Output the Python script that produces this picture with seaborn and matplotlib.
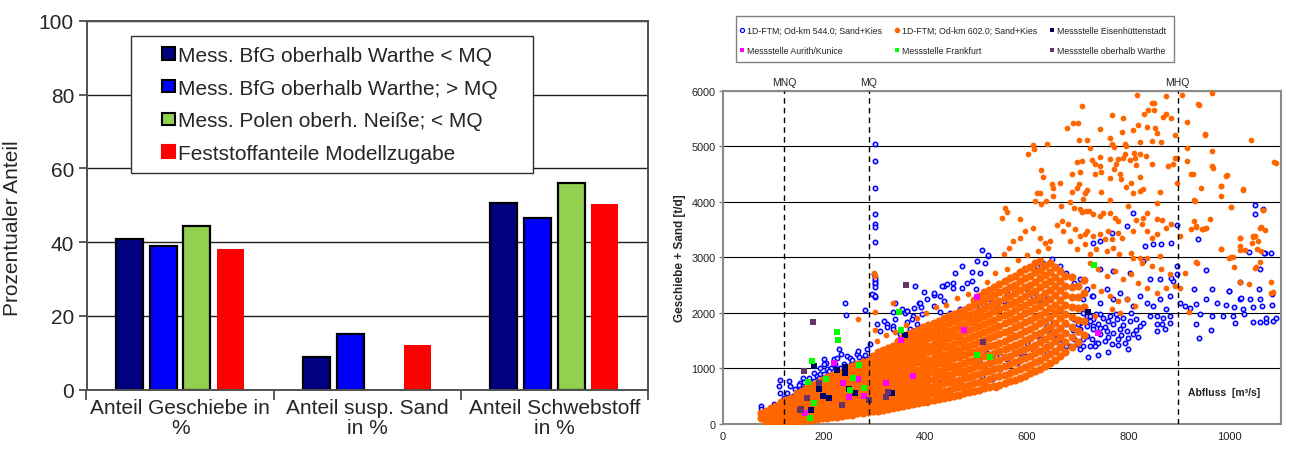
import numpy as np
import pandas as pd
import seaborn as sns
import matplotlib.pyplot as plt
from matplotlib.patches import Patch, Rectangle
from matplotlib.lines import Line2D

# ---------------- linke Grafik: Kornanteile ----------------
categories = ["Anteil Geschiebe in\n%", "Anteil susp. Sand\nin %", "Anteil Schwebstoff\nin %"]
series_names = [
    "Mess. BfG oberhalb Warthe < MQ",
    "Mess. BfG oberhalb Warthe; > MQ",
    "Mess. Polen oberh. Neiße; < MQ",
    "Feststoffanteile Modellzugabe",
]
bfg_low = [40.9, 8.8, 50.7]
bfg_high = [38.9, 15.1, 46.4]
polen = [44.4, np.nan, 56.1]
modell = [38.2, 12.1, 50.3]
bar_colors = ["#000080", "#0000FF", "#92D050", "#FF0000"]

# ---------------- rechte Grafik: Geschiebe + Sand ----------------
flow_names = ["MNQ", "MQ", "MHQ"]
flow_values = [122, 288, 897]

# 1D-FTM Od-km 602.0, dichtes Band (Abfluss -> Transportwerte)
orange_band_x = [76, 86, 96, 106, 116, 126, 136, 146, 156, 166, 176, 186, 196, 206, 216, 226,
                 236, 246, 256, 266, 276, 286, 296, 306, 316, 326, 336, 346, 356, 366, 376, 386,
                 396, 406, 416, 426, 436, 446, 456, 466, 476, 486, 496, 506, 516, 526, 536, 546,
                 556, 566, 576, 586, 596, 606, 616, 626, 636, 646, 656, 666, 676, 688, 700, 712]
orange_band_y = [
    [100, 190], [20, 90, 160, 230], [10, 80, 150, 230, 290], [30, 100, 180, 260, 330],
    [20, 110, 190, 270, 350, 400], [40, 120, 210, 290, 370, 440], [30, 130, 220, 310, 390, 470],
    [50, 140, 230, 320, 410, 500, 550], [60, 150, 250, 340, 430, 510, 590],
    [70, 160, 260, 350, 440, 530, 620, 660], [80, 170, 270, 360, 450, 540, 630, 700],
    [90, 190, 280, 370, 460, 560, 650, 740], [100, 200, 290, 390, 480, 570, 670, 760, 800],
    [110, 210, 310, 400, 500, 590, 690, 780, 850], [120, 220, 320, 420, 510, 610, 700, 800, 880],
    [130, 240, 330, 430, 530, 630, 720, 820, 910], [150, 250, 350, 450, 550, 650, 740, 840, 940],
    [160, 260, 360, 460, 560, 660, 760, 860, 960, 1000],
    [170, 280, 380, 480, 580, 680, 780, 880, 980, 1040],
    [190, 290, 390, 490, 590, 690, 790, 890, 990, 1080],
    [200, 300, 410, 510, 610, 710, 810, 910, 1010, 1110],
    [210, 320, 420, 520, 630, 730, 830, 940, 1040, 1140],
    [230, 330, 440, 540, 650, 750, 860, 960, 1070, 1170, 1230],
    [240, 350, 460, 560, 670, 780, 880, 990, 1100, 1200, 1290],
    [260, 370, 470, 580, 690, 800, 910, 1020, 1130, 1240, 1340],
    [270, 380, 490, 600, 710, 820, 930, 1040, 1150, 1260, 1370],
    [290, 400, 510, 620, 740, 850, 960, 1070, 1180, 1300, 1410],
    [300, 420, 530, 640, 760, 870, 990, 1100, 1210, 1330, 1440, 1500],
    [320, 440, 550, 670, 780, 900, 1020, 1130, 1250, 1370, 1480, 1560],
    [340, 460, 570, 690, 810, 930, 1040, 1160, 1280, 1400, 1520, 1620],
    [360, 480, 600, 720, 840, 960, 1080, 1200, 1320, 1440, 1560, 1660],
    [380, 500, 620, 740, 860, 980, 1110, 1230, 1350, 1470, 1590, 1700],
    [400, 520, 640, 760, 890, 1010, 1130, 1260, 1380, 1500, 1620, 1740],
    [410, 540, 660, 790, 910, 1040, 1160, 1290, 1410, 1540, 1660, 1780],
    [430, 560, 680, 810, 940, 1060, 1190, 1320, 1440, 1570, 1700, 1820],
    [450, 580, 710, 840, 960, 1090, 1220, 1350, 1480, 1610, 1740, 1860],
    [470, 600, 730, 860, 990, 1120, 1250, 1380, 1510, 1640, 1770, 1900],
    [490, 620, 750, 880, 1020, 1150, 1280, 1410, 1540, 1680, 1810, 1940],
    [510, 640, 780, 910, 1040, 1180, 1310, 1440, 1580, 1710, 1850, 1980],
    [530, 670, 800, 940, 1070, 1210, 1340, 1480, 1610, 1750, 1880, 2020],
    [550, 690, 830, 960, 1100, 1240, 1380, 1510, 1650, 1790, 1920, 2060],
    [570, 710, 850, 990, 1130, 1270, 1410, 1550, 1690, 1830, 1960, 2100],
    [590, 730, 880, 1020, 1160, 1300, 1440, 1580, 1720, 1860, 2000, 2140, 2230],
    [610, 760, 900, 1040, 1190, 1330, 1470, 1620, 1760, 1900, 2040, 2190, 2300],
    [640, 780, 930, 1070, 1220, 1360, 1510, 1650, 1800, 1940, 2090, 2230, 2380],
    [660, 810, 960, 1100, 1250, 1400, 1540, 1690, 1840, 1980, 2130, 2280, 2420],
    [690, 840, 990, 1130, 1280, 1430, 1580, 1730, 1880, 2030, 2180, 2320, 2470],
    [710, 860, 1010, 1160, 1310, 1460, 1620, 1770, 1920, 2070, 2220, 2370, 2520],
    [740, 890, 1040, 1200, 1350, 1500, 1650, 1810, 1960, 2110, 2260, 2420, 2570],
    [770, 920, 1080, 1230, 1390, 1540, 1700, 1850, 2000, 2160, 2310, 2470, 2620],
    [800, 960, 1110, 1270, 1420, 1580, 1740, 1890, 2050, 2200, 2360, 2510, 2670],
    [830, 990, 1150, 1310, 1460, 1620, 1780, 1940, 2100, 2250, 2410, 2570, 2730],
    [870, 1030, 1190, 1350, 1510, 1670, 1830, 1990, 2150, 2310, 2470, 2630, 2790],
    [910, 1070, 1230, 1390, 1550, 1710, 1870, 2030, 2190, 2350, 2510, 2670, 2830],
    [950, 1110, 1270, 1430, 1600, 1760, 1920, 2080, 2240, 2400, 2560, 2730, 2890],
    [990, 1160, 1320, 1480, 1640, 1810, 1970, 2130, 2290, 2460, 2620, 2780, 2940],
    [1040, 1200, 1370, 1530, 1700, 1860, 2020, 2190, 2350, 2520, 2680, 2850],
    [1090, 1260, 1420, 1590, 1750, 1920, 2080, 2250, 2410, 2580, 2740, 2900],
    [1150, 1320, 1490, 1650, 1820, 1990, 2150, 2320, 2490, 2650, 2820],
    [1220, 1390, 1560, 1730, 1900, 2070, 2240, 2410, 2580, 2750],
    [1300, 1470, 1640, 1810, 1980, 2150, 2320, 2490, 2660],
    [1380, 1560, 1740, 1920, 2100, 2280, 2460, 2640],
    [1480, 1680, 1880, 2080, 2280, 2480],
    [1600, 1850, 2100, 2350, 2600],
]
# 1D-FTM Od-km 602.0, Streupunkte
orange_scatter = [
    (817, 5923), (850, 5785), (846, 5785), (875, 5905), (905, 5923), (965, 5965), (708, 5725),
    (839, 5653), (850, 5653), (831, 5587), (939, 5743), (767, 5563), (790, 5503), (875, 5587),
    (869, 5533), (885, 5515), (700, 5425), (691, 5413), (680, 5323), (819, 5383), (837, 5353),
    (852, 5323), (744, 5305), (788, 5263), (809, 5287), (857, 5245), (892, 5203), (952, 5203),
    (764, 5155), (703, 5107), (718, 5107), (767, 5047), (793, 5047), (796, 5005), (824, 5077),
    (847, 5095), (865, 5083), (1042, 5107), (613, 5023), (615, 4945), (639, 5035), (724, 4963),
    (771, 4995), (916, 4975), (603, 4867), (744, 4813), (793, 4855), (790, 4795), (811, 4885),
    (813, 4795), (823, 4855), (834, 4825), (893, 4783), (699, 4717), (708, 4735), (728, 4747),
    (734, 4675), (744, 4645), (764, 4765), (780, 4765), (775, 4675), (771, 4585), (803, 4747),
    (816, 4663), (847, 4687), (879, 4645), (888, 4675), (895, 4783), (964, 4645), (966, 4603),
    (924, 4495), (995, 4483), (1092, 4705), (627, 4567), (632, 4453), (688, 4495), (705, 4543),
    (734, 4495), (747, 4537), (764, 4423), (783, 4495), (785, 4405), (806, 4345), (823, 4447),
    (896, 4345), (983, 4285), (649, 4315), (651, 4243), (665, 4345), (703, 4315), (699, 4243),
    (714, 4165), (719, 4207), (688, 4183), (711, 4045), (747, 4183), (764, 4027), (796, 4267),
    (809, 4165), (824, 4195), (828, 4225), (863, 4183), (944, 4243), (1027, 4207), (619, 4153),
    (626, 4165), (616, 4015), (627, 3955), (652, 4105), (638, 4015), (668, 3925), (685, 4003),
    (693, 3895), (705, 3865), (708, 3823), (716, 3835), (723, 3835), (731, 3775), (744, 3745),
    (750, 3805), (764, 3805), (773, 3715), (780, 3655), (800, 3925), (836, 3805), (829, 3715),
    (857, 3985), (856, 3685), (867, 3667), (929, 4027), (930, 3655), (962, 3691), (557, 3895),
    (560, 3817), (550, 3715), (587, 3685), (1065, 3853), (1003, 3913),
    (659, 3583), (669, 3655), (672, 3475), (682, 3595), (695, 3505), (705, 3385), (714, 3427),
    (719, 3475), (731, 3385), (745, 3415), (754, 3325), (760, 3475), (767, 3325), (780, 3445),
    (787, 3355), (810, 3475), (815, 3667), (826, 3595), (836, 3475), (846, 3343), (856, 3415),
    (874, 3523), (884, 3595), (901, 3385), (924, 3505), (946, 3505), (954, 3523), (1021, 3343),
    (1046, 3373), (1056, 3295), (1070, 3493), (982, 3145), (1021, 3133), (1054, 3145),
    (999, 2995), (936, 2905), (863, 3025), (836, 2995), (824, 2983), (806, 3085), (782, 3055),
    (770, 3175), (757, 3115), (737, 3145), (724, 3055), (714, 3235), (698, 3145), (686, 3295),
    (646, 3295), (636, 3265), (626, 3343), (613, 3535), (596, 3475), (587, 3355), (573, 3295),
    (564, 3175), (554, 3055),
    (931, 4017), (1003, 3915), (1065, 3855), (934, 3567), (947, 3519), (954, 3525), (1059, 3537),
    (1021, 3346), (1046, 3388), (1043, 3256), (983, 3148), (1031, 3136), (1062, 3118),
    (1059, 2908), (1003, 2998), (934, 2908), (1008, 2818), (1049, 2806), (911, 2716),
    (901, 2440), (1020, 2560), (1038, 2518), (1082, 2548), (1082, 2356), (920, 2008),
    (810, 2997), (826, 2907), (846, 2847), (865, 2787), (882, 2697), (724, 2907), (741, 2787),
    (757, 2667), (774, 2757), (790, 2607), (806, 2697), (820, 2547), (836, 2457), (856, 2367),
    (875, 2457), (892, 2487), (731, 2487), (747, 2397), (764, 2307), (780, 2217), (797, 2247),
    (813, 2127), (767, 2067), (783, 2007), (734, 1947),
    (1085, 2370), (1052, 2820), (1006, 3000), (1049, 3390), (1062, 3540), (1020, 3210),
    (993, 4470), (964, 4920), (1088, 4710), (1026, 4230), (983, 4290), (928, 4500), (938, 5760),
    (951, 5220), (915, 5442), (915, 4740), (983, 4110), (934, 3540),
    (299, 2727), (301, 2670), (301, 2019), (268, 1887), (337, 2187), (300, 1700), (305, 1500),
    (322, 1610), (341, 1660), (362, 1790), (383, 1910), (402, 1990), (421, 2110), (441, 2140),
    (462, 2260), (483, 2340), (521, 2560), (538, 2710), (561, 2790), (582, 2960), (601, 3040),
    (622, 3110), (641, 3160),
    (539, 657), (491, 717), (462, 537), (449, 597), (403, 387), (377, 357), (423, 537),
]

# 1D-FTM Od-km 544.0
blue_pts = [
    (75, 327), (75, 267), (94, 207), (101, 357), (113, 795), (131, 777), (134, 687), (142, 627),
    (147, 567), (139, 507), (153, 747), (159, 837), (167, 687), (173, 777), (181, 915),
    (186, 867), (193, 897), (200, 1167), (205, 1107), (213, 1017), (219, 1167), (229, 1347),
    (234, 1257), (226, 1197), (242, 2187), (244, 1959), (245, 1227), (253, 1077), (265, 1257),
    (275, 1167), (280, 2055), (285, 1347), (291, 1437), (111, 687), (114, 567), (121, 477),
    (127, 417), (137, 357), (222, 1077), (232, 1017), (239, 1077), (153, 627), (163, 567),
    (127, 567), (134, 477), (193, 1017), (200, 1077), (206, 987), (252, 1197), (258, 1107),
    (268, 1317), (272, 1077), (285, 1167), (150, 700), (160, 760), (170, 820), (180, 780),
    (190, 820), (200, 900), (210, 950), (215, 880), (225, 940), (235, 960), (245, 1010),
    (255, 1150), (262, 1050), (270, 1200), (280, 1250), (160, 640), (175, 650), (185, 700),
    (196, 760), (205, 700),
    (301, 5040), (301, 4740), (301, 4250), (301, 3780), (301, 3600), (301, 3540), (301, 3280),
    (301, 2640), (301, 2580), (301, 2520), (298, 2320), (301, 2280), (295, 2337), (301, 2307),
    (301, 2619), (301, 2547), (299, 2697), (301, 2469),
    (318, 1857), (324, 1797), (337, 1767), (340, 2187), (354, 2067), (360, 2007), (304, 1797),
    (310, 1677), (337, 1707), (350, 1617), (370, 1707), (363, 2037), (375, 1947), (383, 1797),
    (388, 2187), (377, 1677), (472, 2850), (501, 2940), (511, 3138), (524, 3030), (491, 2730),
    (472, 2448), (455, 2538), (436, 2478), (416, 2322), (398, 2382), (380, 2478), (391, 2100),
    (436, 2220), (469, 2070), (508, 2130), (429, 2010), (337, 2010), (340, 1890), (324, 1740),
    (364, 1830), (459, 2727), (432, 2487), (442, 2517), (454, 2457), (518, 2895), (524, 3039),
    (508, 2715), (482, 2547), (491, 2577), (500, 2439), (390, 2187), (403, 2247), (416, 2127),
    (377, 2097), (364, 2037), (373, 1887), (393, 1977), (416, 2367), (429, 2307), (449, 2007),
    (462, 1947), (478, 2067), (488, 1887), (501, 1947), (514, 2157), (528, 2247), (541, 2127),
    (554, 2217), (560, 2367), (573, 2487), (587, 2577), (600, 2427), (613, 2307), (626, 2187),
    (639, 2247), (619, 2847), (632, 2907), (649, 2967), (665, 2847), (678, 2727), (692, 2547),
    (705, 2607), (718, 2427), (728, 2307),
    (547, 1467), (560, 1347), (573, 1407), (587, 1287), (600, 1467), (613, 1347), (626, 1527),
    (639, 1407), (652, 1587), (665, 1467), (678, 1647), (692, 1527), (705, 1707), (718, 1587),
    (731, 1767), (560, 1167), (580, 1107), (596, 1227), (547, 1227), (521, 1287), (534, 1167),
    (508, 1107), (541, 1017), (639, 1767), (652, 1827), (665, 1707), (678, 1797), (692, 1887),
    (705, 1827), (718, 1947), (731, 1887), (744, 1977), (646, 1647), (659, 1557), (672, 1497),
    (685, 1407), (698, 1437), (711, 1527), (724, 1407), (737, 1467), (429, 807), (449, 867),
    (468, 747), (482, 837), (409, 627), (390, 567), (396, 747), (501, 897), (521, 957),
    (383, 1707), (396, 1587), (370, 1467), (423, 1647), (436, 1767), (705, 1350), (678, 1410),
    (639, 1290), (619, 1110), (600, 1050), (587, 1170), (567, 930), (547, 990), (531, 810),
    (511, 870), (495, 750),
    (896, 3579), (896, 2847), (938, 3339), (1049, 3939), (1049, 3777), (1038, 3099), (1069, 3075),
    (1082, 3075), (954, 2775), (1059, 2787), (895, 2697), (964, 2439), (998, 2397), (1020, 2247),
    (1023, 2277), (1039, 2247), (1058, 2439), (1084, 2337), (929, 2427), (934, 2157), (954, 2247),
    (974, 2187), (993, 2139), (1008, 2115), (1026, 2079), (1046, 2115), (1064, 2127), (1084, 2139),
    (901, 2175), (911, 2127), (921, 2097), (941, 1977), (964, 1947), (987, 1947), (1006, 1947),
    (1029, 1977), (934, 1797), (963, 1689), (1010, 1815), (1045, 1845), (1059, 1839), (1072, 1839),
    (1085, 1857), (939, 1557),
    (711, 2007), (724, 1947), (737, 1977), (751, 1917), (764, 1947), (777, 1887), (790, 1917),
    (803, 1857), (816, 1887), (829, 1827), (842, 1947), (856, 1947), (869, 1917), (882, 1947),
    (718, 1767), (731, 1707), (744, 1737), (757, 1677), (770, 1647), (783, 1707), (797, 1677),
    (810, 1617), (823, 1767), (715, 1587), (728, 1527), (741, 1467), (754, 1497), (767, 1437),
    (780, 1527), (793, 1467), (711, 1407), (734, 1407), (856, 1797), (867, 1797), (882, 1815),
    (857, 1677), (872, 1707), (711, 2247), (731, 2307), (744, 2187), (757, 2427), (770, 2247),
    (783, 2367), (797, 2247), (810, 2127), (823, 2307), (836, 2187), (849, 2127), (862, 2247),
    (875, 2067), (882, 2307), (744, 2787), (770, 2757), (803, 2727), (829, 2937), (842, 2607),
    (862, 2619), (888, 2577), (885, 2637), (744, 3297), (767, 3447), (797, 3567), (833, 3207),
    (849, 3237), (865, 3237), (885, 3267), (810, 3795), (731, 3267), (1065, 3870), (1067, 3078),
    (1021, 2562), (999, 2400), (1059, 2250), (1092, 1902), (1072, 1902), (725, 1850), (740, 1800),
    (755, 1750), (770, 1800), (785, 1600), (800, 1550), (815, 1700), (760, 1560), (790, 1780),
    (745, 1620), (775, 1980), (805, 2000), (820, 1560), (700, 1650), (690, 1700), (760, 1850),
    (700, 1800), (760, 1300), (800, 1350), (740, 1250), (720, 1200), (780, 1420),
]

# Messstellen
eisen_pts = [(180, 1047), (226, 975), (241, 1035), (242, 915), (190, 627), (199, 507), (209, 477),
             (175, 255), (262, 567), (335, 555), (359, 1599), (249, 630), (720, 2020)]
aurith_pts = [(220, 1095), (237, 735), (267, 807), (249, 489), (278, 507), (323, 747), (375, 867),
              (352, 1515), (163, 195), (476, 1698), (501, 2280), (740, 1638)]
frankfurt_pts = [(226, 1659), (227, 1515), (176, 1137), (169, 759), (205, 807), (180, 375),
                 (172, 117), (252, 615), (258, 837), (269, 1059), (278, 645), (347, 2019),
                 (352, 1695), (501, 1242), (527, 1206), (732, 2862)]
warthe_pts = [(178, 1842), (362, 2508), (161, 948), (154, 270), (167, 468), (236, 342),
              (289, 432), (322, 492), (327, 570), (514, 1470), (152, 255), (191, 747)]


def set_config():
    sns.set_theme(style="white")
    plt.rcParams["font.family"] = ["Liberation Sans", "DejaVu Sans"]


def draw_bars(ax):
    df = pd.DataFrame({
        "Kategorie": categories * 4,
        "Reihe": np.repeat(series_names, len(categories)),
        "Wert": bfg_low + bfg_high + polen + modell,
    })
    sns.barplot(data=df, x="Kategorie", y="Wert", hue="Reihe", hue_order=series_names,
                palette=bar_colors, saturation=1, width=0.72, gap=0.2,
                edgecolor="black", linewidth=1.6, legend=False, ax=ax)
    # Modellzugabe ohne Rahmen
    for bar in ax.containers[-1]:
        bar.set_edgecolor(bar_colors[-1])
        bar.set_linewidth(0)

    ax.set_xlim(-0.5, 2.5)
    ax.set_ylim(0, 100)
    ax.set_yticks(range(0, 101, 20))
    ax.tick_params(axis="y", labelsize=15, length=6, width=1.2, color="#404040",
                   direction="out", left=True, pad=3)
    ax.set_xticks(range(len(categories)))
    ax.set_xticklabels(categories, fontsize=15, linespacing=1.05)
    ax.tick_params(axis="x", length=0, pad=6)
    ax.set_xticks([-0.5, 0.5, 1.5, 2.5], minor=True)
    ax.tick_params(axis="x", which="minor", length=7, width=1.2, color="#404040",
                   direction="out", bottom=True)
    ax.set_xlabel("")
    ax.set_ylabel("Prozentualer Anteil", fontsize=15)
    ax.yaxis.set_label_coords(-0.115, 0.44)
    ax.yaxis.grid(True, color="#202020", linewidth=1.0)
    ax.set_axisbelow(True)
    for s in ax.spines.values():
        s.set_color("#505050")
        s.set_linewidth(1.4)
        s.set_visible(True)

    # Legende mit eigenem Rahmen
    ax.add_patch(Rectangle((0.0787, 0.5873), 0.716, 0.372, transform=ax.transAxes,
                           facecolor="white", edgecolor="#303030", linewidth=1.0, zorder=3))
    handles = [Patch(facecolor=c, edgecolor=("black" if c != "#FF0000" else c),
                     linewidth=1.5) for c in bar_colors]
    ax.legend(handles, series_names, loc="upper left", bbox_to_anchor=(0.1345, 0.932),
              frameon=False, fontsize=15, handlelength=0.62, handleheight=0.55,
              handletextpad=0.15, labelspacing=0.66, borderpad=0, borderaxespad=0)


def draw_scatter(ax, fig):
    ob_x = [x for x, ys in zip(orange_band_x, orange_band_y) for _ in ys]
    ob_y = [y for ys in orange_band_y for y in ys]
    os_x, os_y = zip(*orange_scatter)
    bl_x, bl_y = zip(*blue_pts)

    sns.scatterplot(x=list(bl_x), y=list(bl_y), ax=ax, marker="o", s=10,
                    color="#dcdcff", edgecolor="#0000FF", linewidth=1.1, zorder=2)
    # dichter Kern der Punktwolke mit etwas größeren Punkten, damit er geschlossen wirkt
    sns.scatterplot(x=ob_x, y=ob_y, ax=ax, marker="o", s=34,
                    color="#FF6600", linewidth=0, zorder=3)
    sns.scatterplot(x=list(os_x), y=list(os_y), ax=ax, marker="o", s=17,
                    color="#FF6600", linewidth=0, zorder=3)
    square_sets = [(eisen_pts, "#000066"), (aurith_pts, "#FF00FF"),
                   (frankfurt_pts, "#00FF00"), (warthe_pts, "#663366")]
    for pts, col in square_sets:
        px, py = zip(*pts)
        sns.scatterplot(x=list(px), y=list(py), ax=ax, marker="s", s=20, color=col,
                        linewidth=0, zorder=4)

    for name, q in zip(flow_names, flow_values):
        ax.axvline(q, color="black", linewidth=1.0, linestyle=(0, (4, 3)), zorder=5)
        ax.text(q, 6060, name, ha="center", va="bottom", fontsize=7.5, color="#222222")

    ax.set_xlim(0, 1100)
    ax.set_ylim(0, 6000)
    ax.set_xticks(range(0, 1001, 200))
    ax.set_yticks(range(0, 6001, 1000))
    ax.tick_params(axis="x", labelsize=8, length=0, pad=5, labelcolor="#222222")
    ax.tick_params(axis="y", labelsize=7.8, length=3, width=1, color="#808080",
                   direction="out", left=True, pad=2, labelcolor="#222222")
    ax.yaxis.grid(True, color="black", linewidth=0.8)
    ax.set_axisbelow(True)
    for s in ax.spines.values():
        s.set_color("#8a8a8a")
        s.set_linewidth(1.5)
        s.set_visible(True)
    ax.set_ylabel("Geschiebe + Sand [t/d]", fontsize=8.5, fontweight="bold", labelpad=4)
    ax.text(917, 576, "Abfluss  [m³/s]", fontsize=7.5, fontweight="bold", va="center",
            ha="left", color="#222222")

    # Legende oben
    h_blue = Line2D([], [], ls="", marker="o", markersize=3, markerfacecolor="#dcdcff",
                    markeredgecolor="#0000FF", markeredgewidth=0.8)
    h_orange = Line2D([], [], ls="", marker="o", markersize=3, color="#FF6600")
    h_sq = [Line2D([], [], ls="", marker="s", markersize=3.5, color=c, markeredgewidth=0)
            for _, c in square_sets]
    labels = ["1D-FTM; Od-km 544.0; Sand+Kies", "Messstelle Aurith/Kunice",
              "1D-FTM; Od-km 602.0; Sand+Kies", "Messstelle Frankfurt",
              "Messstelle Eisenhüttenstadt", "Messstelle oberhalb Warthe"]
    handles = [h_blue, h_sq[1], h_orange, h_sq[2], h_sq[0], h_sq[3]]
    fig.add_artist(Rectangle((736 / 1305, 1 - 63.3 / 452), 438 / 1305, 46 / 452,
                             transform=fig.transFigure, fill=False, edgecolor="#808080",
                             linewidth=1.0))
    fig.legend(handles, labels, loc="upper left", bbox_to_anchor=(739 / 1305, 1 - 27 / 452),
               ncol=3, frameon=False, fontsize=6.3, handlelength=0.7, handletextpad=0.25,
               columnspacing=1.3, labelspacing=1.25, borderpad=0, borderaxespad=0,
               labelcolor="#222222")


def main():
    set_config()
    fig = plt.figure(figsize=(13.05, 4.52), dpi=100)
    ax1 = fig.add_axes([86.5 / 1305, 61.3 / 452, 561.5 / 1305, 369 / 452])
    ax2 = fig.add_axes([722.5 / 1305, 27 / 452, 558 / 1305, 333.3 / 452])
    draw_bars(ax1)
    draw_scatter(ax2, fig)
    fig.savefig("out.png", dpi=100)


if __name__ == "__main__":
    main()
